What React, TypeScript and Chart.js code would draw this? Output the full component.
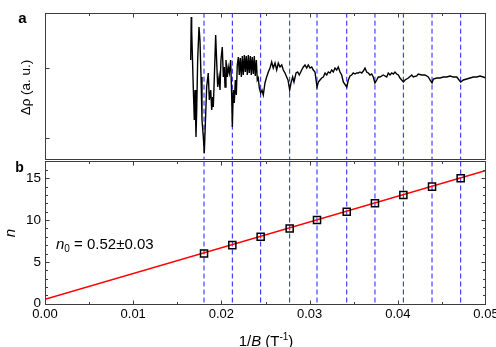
import React, { useEffect, useRef } from 'react';
import { Chart, registerables } from 'chart.js';

Chart.register(...registerables);

const FONT = '"Liberation Sans", Arial, Helvetica, sans-serif';

// ---- panel a: oscillating magnetoresistance trace (1/B in T^-1, Δρ in a.u.) ----
const traceInvB = [
  0.01652, 0.01658, 0.01663, 0.01681, 0.01693, 0.01701, 0.01712, 0.01720, 0.01731, 0.01746,
  0.01757, 0.01769, 0.01780, 0.01795, 0.01806,
  0.01833, 0.01851, 0.01863, 0.01879, 0.01890, 0.01901, 0.01908, 0.01920, 0.01935, 0.01947,
  0.01958, 0.01973, 0.01984, 0.01995, 0.02010, 0.02022, 0.02033, 0.02041, 0.02052, 0.02067,
  0.02078, 0.02090, 0.02105, 0.02117, 0.02124,
  0.02135, 0.02146, 0.02158, 0.02169, 0.02180, 0.02192, 0.02203, 0.02214, 0.02226, 0.02237,
  0.02248, 0.02260, 0.02271, 0.02282, 0.02294, 0.02305, 0.02316, 0.02328, 0.02339, 0.02350,
  0.02362, 0.02373, 0.02384, 0.02396, 0.02407, 0.02418, 0.02430, 0.02445,
  0.02460, 0.02475, 0.02494, 0.02513, 0.02532, 0.02551, 0.02570, 0.02588, 0.02608, 0.02627,
  0.02645, 0.02664, 0.02684, 0.02702, 0.02721, 0.02740, 0.02755, 0.02774, 0.02789, 0.02808,
  0.02823, 0.02846, 0.02865, 0.02883,
  0.02910, 0.02929, 0.02948, 0.02967, 0.02985, 0.03005, 0.03024, 0.03042, 0.03061, 0.03084,
  0.03099, 0.03118, 0.03137, 0.03155, 0.03175, 0.03194, 0.03212, 0.03231, 0.03251, 0.03269,
  0.03288, 0.03307, 0.03325, 0.03345, 0.03364, 0.03382, 0.03421, 0.03439, 0.03458, 0.03477,
  0.03495, 0.03515, 0.03534, 0.03552, 0.03571, 0.03591, 0.03609, 0.03628, 0.03647, 0.03666,
  0.03685, 0.03704, 0.03722, 0.03741, 0.03761, 0.03779, 0.03798,
  0.03836, 0.03874, 0.03892, 0.03912, 0.03931, 0.03949, 0.03968, 0.03987, 0.04006, 0.04025,
  0.04063, 0.04082, 0.04119, 0.04158, 0.04176, 0.04214, 0.04232, 0.04271, 0.04308, 0.04346,
  0.04365, 0.04388, 0.04403, 0.04441, 0.04478, 0.04516, 0.04554, 0.04592, 0.04629, 0.04668,
  0.04713, 0.04743, 0.04781, 0.04819, 0.04857, 0.04895, 0.04932, 0.04969, 0.05000,
];
const traceDrho = [
  78, 121, 108, 51, 18, 48, 1, 28, 78, 111,
  98, 61, 18, 1, -15,
  51, 65, 38, 48, 28, 41, 31, 61, 103, 75,
  51, 61, 48, 78, 91, 61, 71, 51, 78, 61,
  71, 65, 78, 41, 11,
  48, 35, 58, 43, 73, 81, 63, 80, 61, 82,
  63, 83, 66, 82, 63, 83, 65, 82, 63, 81,
  64, 82, 62, 78, 58, 60, 50, 45,
  48, 43, 55, 61, 66, 70, 76, 70, 75, 68,
  75, 71, 73, 68, 65, 61, 58, 48, 55, 61,
  56, 65, 66, 63,
  68, 71, 73, 70, 73, 70, 71, 68, 66, 51,
  56, 58, 60, 61, 65, 63, 66, 65, 68, 66,
  70, 68, 71, 66, 63, 56, 51, 58, 62, 63,
  65, 64, 65, 65, 66, 65, 67, 70, 66, 65,
  63, 64, 61, 55, 58, 61, 61,
  63, 61, 65, 63, 65, 64, 66, 64, 63, 60,
  56, 58, 60, 63, 61, 62, 64, 63, 63, 61,
  58, 55, 59, 60, 60, 61, 61, 62, 61, 61,
  56, 58, 59, 60, 61, 61, 62, 61, 60,
];
const drhoMin = -22;
const drhoMax = 125.3;
const drhoTicks = [0, 70];

// ---- panel b: Landau level index vs 1/B ----
const levelInvB = [0.01803, 0.02124, 0.02445, 0.02774, 0.03084, 0.03421, 0.03741, 0.04063, 0.04388, 0.04713];
const levelN = [6, 7, 8, 9, 10, 11, 12, 13, 14, 15];
const fitInvB = [0, 0.05];
const fitN = [0.52, 15.92];
const nMin = 0;
const nMax = 17;
const nTicks = [0, 5, 10, 15];
const nMinorTicks = [1, 2, 3, 4, 6, 7, 8, 9, 11, 12, 13, 14, 16];
const xTicks = [0, 0.01, 0.02, 0.03, 0.04, 0.05];
const xMinorTicks = [0.005, 0.015, 0.025, 0.035, 0.045];

const AXIS_COLOR = '#3c3c3c';
const DASH_COLOR = '#1f1fff';

function seg(ctx: CanvasRenderingContext2D, x1: number, y1: number, x2: number, y2: number) {
  ctx.beginPath();
  ctx.moveTo(x1, y1);
  ctx.lineTo(x2, y2);
  ctx.stroke();
}
const snap = (v: number) => Math.round(v) + 0.5;

const levelLines = {
  id: 'levelLines',
  beforeDatasetsDraw(chart: any) {
    const { ctx, chartArea: a } = chart;
    const x = chart.scales.x;
    ctx.save();
    ctx.beginPath();
    ctx.rect(a.left, a.top, a.right - a.left, a.bottom - a.top);
    ctx.clip();
    ctx.strokeStyle = DASH_COLOR;
    ctx.lineWidth = 1;
    ctx.setLineDash([5, 3]);
    for (const v of levelInvB) {
      const px = x.getPixelForValue(v);
      seg(ctx, px, a.top, px, a.bottom);
    }
    ctx.restore();
  },
};

const topDecor = {
  id: 'topDecor',
  afterDraw(chart: any) {
    const { ctx, chartArea: a } = chart;
    const x = chart.scales.x;
    const y = chart.scales.y;
    const L = snap(a.left), R = snap(a.right) - 1, T = snap(a.top), B = snap(a.bottom) - 1;
    ctx.save();
    ctx.strokeStyle = AXIS_COLOR;
    ctx.lineWidth = 1;
    ctx.strokeRect(L, T, R - L, B - T);
    for (const v of xTicks) {
      const px = snap(x.getPixelForValue(v));
      if (px > L + 1 && px < R - 1) seg(ctx, px, T, px, T + 4);
    }
    for (const v of xMinorTicks) {
      const px = snap(x.getPixelForValue(v));
      seg(ctx, px, T, px, T + 2.5);
    }
    for (const v of drhoTicks) {
      const py = snap(y.getPixelForValue(v));
      seg(ctx, L, py, L + 4, py);
    }
    ctx.fillStyle = '#000';
    ctx.textAlign = 'center';
    ctx.textBaseline = 'alphabetic';
    ctx.font = `bold 15px ${FONT}`;
    ctx.fillText('a', 22.5, 23);
    ctx.save();
    ctx.translate(30, 87.5);
    ctx.rotate(-Math.PI / 2);
    ctx.font = `13.5px ${FONT}`;
    ctx.fillText('Δρ (a. u.)', 0, 0);
    ctx.restore();
    ctx.restore();
  },
};

function drawPieces(ctx: CanvasRenderingContext2D, pieces: { t: string; f: string; dy?: number }[], x: number, y: number, center: boolean) {
  let total = 0;
  for (const p of pieces) {
    ctx.font = p.f;
    total += ctx.measureText(p.t).width;
  }
  let cx = center ? x - total / 2 : x;
  ctx.textAlign = 'left';
  ctx.textBaseline = 'alphabetic';
  for (const p of pieces) {
    ctx.font = p.f;
    ctx.fillText(p.t, cx, y + (p.dy || 0));
    cx += ctx.measureText(p.t).width;
  }
}

const bottomDecor = {
  id: 'bottomDecor',
  afterDraw(chart: any) {
    const { ctx, chartArea: a } = chart;
    const x = chart.scales.x;
    const y = chart.scales.y;
    const L = snap(a.left), R = snap(a.right) - 1, T = snap(a.top) - 1, B = snap(a.bottom);
    ctx.save();
    ctx.strokeStyle = AXIS_COLOR;
    ctx.lineWidth = 1;
    ctx.strokeRect(L, T, R - L, B - T);
    for (const v of xTicks) {
      const px = snap(x.getPixelForValue(v));
      if (px > L + 1 && px < R - 1) {
        seg(ctx, px, B, px, B - 4);
        seg(ctx, px, T, px, T + 4);
      }
    }
    for (const v of xMinorTicks) {
      const px = snap(x.getPixelForValue(v));
      seg(ctx, px, B, px, B - 2.5);
      seg(ctx, px, T, px, T + 2.5);
    }
    for (const v of nTicks) {
      const py = snap(y.getPixelForValue(v));
      if (py < B - 1) {
        seg(ctx, L, py, L + 4, py);
        seg(ctx, R, py, R - 4, py);
      }
    }
    for (const v of nMinorTicks) {
      const py = snap(y.getPixelForValue(v));
      seg(ctx, L, py, L + 2.5, py);
      seg(ctx, R, py, R - 2.5, py);
    }
    ctx.fillStyle = '#000';
    ctx.textAlign = 'center';
    ctx.textBaseline = 'alphabetic';
    ctx.font = `bold 14px ${FONT}`;
    ctx.fillText('b', 19.5, 17);
    // y title
    ctx.save();
    ctx.translate(15, 78);
    ctx.rotate(-Math.PI / 2);
    ctx.font = `italic 15px ${FONT}`;
    ctx.fillText('n', 0, 0);
    ctx.restore();
    // annotation
    drawPieces(ctx, [
      { t: 'n', f: `italic 15px ${FONT}` },
      { t: '0', f: `10px ${FONT}`, dy: 3.5 },
      { t: ' = 0.52±0.03', f: `15px ${FONT}` },
    ], 56, 93.5, false);
    // x title
    drawPieces(ctx, [
      { t: '1/', f: `15px ${FONT}` },
      { t: 'B', f: `italic 15px ${FONT}` },
      { t: ' (T', f: `15px ${FONT}` },
      { t: '-1', f: `10px ${FONT}`, dy: -5.5 },
      { t: ')', f: `15px ${FONT}` },
    ], 266, 190.5, true);
    ctx.restore();
  },
};

export default function App() {
  const topRef = useRef<HTMLCanvasElement>(null);
  const botRef = useRef<HTMLCanvasElement>(null);

  useEffect(() => {
    document.body.style.margin = '0';
    Chart.defaults.font.family = FONT;

    const topChart = new Chart(topRef.current as HTMLCanvasElement, {
      type: 'line',
      data: {
        datasets: [
          {
            data: traceInvB.map((v, i) => ({ x: v, y: traceDrho[i] })),
            borderColor: '#000',
            borderWidth: 1.4,
            pointRadius: 0,
            tension: 0,
          },
        ],
      },
      options: {
        animation: false,
        responsive: false,
        layout: { padding: { left: 45, right: 10, top: 12.7, bottom: 2 } },
        plugins: { legend: { display: false }, tooltip: { enabled: false } },
        scales: {
          x: { type: 'linear', min: 0, max: 0.05, display: false },
          y: { type: 'linear', min: drhoMin, max: drhoMax, display: false },
        },
      },
      plugins: [levelLines, topDecor],
    } as any);

    const botChart = new Chart(botRef.current as HTMLCanvasElement, {
      type: 'line',
      data: {
        datasets: [
          {
            data: levelInvB.map((v, i) => ({ x: v, y: levelN[i] })),
            showLine: false,
            pointStyle: 'rect',
            pointRadius: 5,
            pointBorderWidth: 1.5,
            pointBorderColor: '#000',
            pointBackgroundColor: 'rgba(0,0,0,0)',
            borderColor: '#000',
          },
          {
            data: fitInvB.map((v, i) => ({ x: v, y: fitN[i] })),
            borderColor: '#ff0000',
            borderWidth: 1.5,
            pointRadius: 0,
            tension: 0,
          },
        ],
      },
      options: {
        animation: false,
        responsive: false,
        layout: { padding: { left: 0, right: 10, top: 5, bottom: 0 } },
        plugins: { legend: { display: false }, tooltip: { enabled: false } },
        scales: {
          x: {
            type: 'linear',
            min: 0,
            max: 0.05,
            grid: { display: false, drawTicks: false },
            border: { display: false },
            afterBuildTicks: (s: any) => {
              s.ticks = xTicks.map((v) => ({ value: v }));
            },
            afterFit: (s: any) => {
              s.height = 43.3;
              s.paddingLeft = 0;
              s.paddingRight = 0;
            },
            ticks: {
              autoSkip: false,
              maxRotation: 0,
              minRotation: 0,
              padding: 3,
              color: '#000',
              font: { size: 13, family: FONT },
              callback: (v: any) => Number(v).toFixed(2),
            },
          },
          y: {
            type: 'linear',
            min: nMin,
            max: nMax,
            grid: { display: false, drawTicks: false },
            border: { display: false },
            afterBuildTicks: (s: any) => {
              s.ticks = nTicks.map((v) => ({ value: v }));
            },
            afterFit: (s: any) => {
              s.width = 45;
              s.paddingTop = 0;
              s.paddingBottom = 0;
            },
            ticks: {
              padding: 4,
              color: '#000',
              font: { size: 13.5, family: FONT },
            },
          },
        },
      },
      plugins: [levelLines, bottomDecor],
    } as any);

    return () => {
      topChart.destroy();
      botChart.destroy();
    };
  }, []);

  return (
    <div style={{ position: 'relative', width: 496, height: 347, background: '#fff' }}>
      <canvas ref={topRef} width={496} height={162} style={{ position: 'absolute', left: 0, top: 0 }} />
      <canvas ref={botRef} width={496} height={192} style={{ position: 'absolute', left: 0, top: 155 }} />
    </div>
  );
}
